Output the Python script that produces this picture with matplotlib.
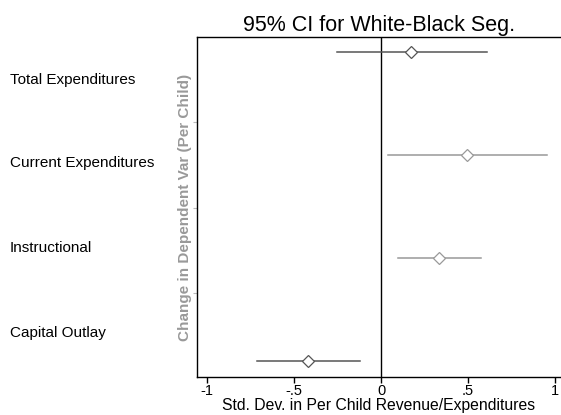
import numpy as np
import matplotlib.pyplot as plt

plt.rcParams['font.family'] = ['Liberation Sans', 'DejaVu Sans']

outcomes = ['Total Expenditures', 'Current Expenditures', 'Instructional', 'Capital Outlay']
estimate = [0.17, 0.494, 0.333, -0.419]
ci_low = [-0.253, 0.04, 0.098, -0.713]
ci_high = [0.61, 0.954, 0.575, -0.12]
colors = ['#555555', '#999999', '#999999', '#555555']

fig = plt.figure(figsize=(5.61, 4.15), dpi=100)
ax = fig.add_axes([197 / 561, 38 / 415, 1 - 197 / 561, 340 / 415])

pos = np.arange(1, len(outcomes) + 1)
for i in range(len(outcomes)):
    ax.plot([ci_low[i], ci_high[i]], [pos[i], pos[i]], c=colors[i], lw=1.1, zorder=2)
    ax.plot(estimate[i], pos[i], marker='D', ms=6.5, mfc='white', mec=colors[i],
            mew=0.9, ls='none', zorder=3)

ax.axvline(0, c='black', lw=1, zorder=1)

ax.set_xlim(-1.057, 1.034)
ax.set_ylim(4.155, 0.855)
ax.set_xticks([-1, -0.5, 0, 0.5, 1])
ax.set_xticklabels(['-1', '-.5', '0', '.5', '1'], fontsize=10.5)
ax.tick_params(axis='x', length=4, width=1, pad=1)

# row separators on the left edge
ax.set_yticks([1.68, 2.51, 3.34])
ax.set_yticklabels([])
ax.tick_params(axis='y', length=3, width=0.8, color='#bbbbbb')

ax.spines['right'].set_visible(False)
for s in ['left', 'top', 'bottom']:
    ax.spines[s].set_linewidth(1)

ax.set_title('95% CI for White-Black Seg.', fontsize=15.5, pad=4)
ax.set_xlabel('Std. Dev. in Per Child Revenue/Expenditures', fontsize=11.3, labelpad=0)
ax.set_ylabel('Change in Dependent Var (Per Child)', fontsize=11, fontweight='bold',
              color='#999999', labelpad=-3)

label_y = [80, 163, 248, 333]
for name, y in zip(outcomes, label_y):
    fig.text(10 / 561, 1 - y / 415, name, fontsize=11, va='center', ha='left')

fig.savefig('out.png', dpi=100)
